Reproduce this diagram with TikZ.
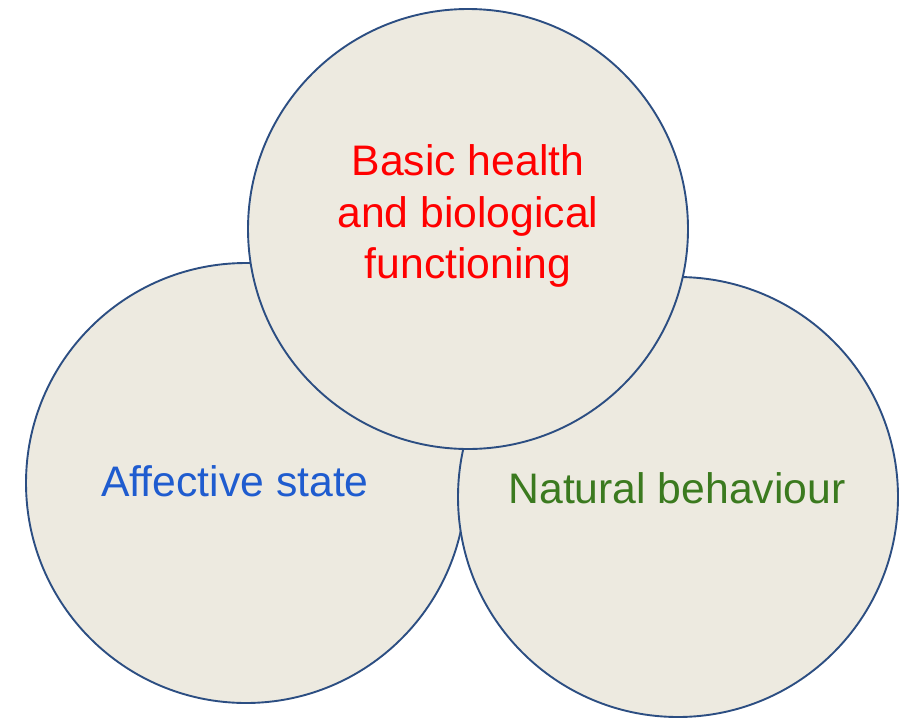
\documentclass[tikz,border=0pt]{standalone}
\usepackage{fontspec}
\setmainfont{Liberation Sans}
\definecolor{discfill}{HTML}{EDEAE0}
\definecolor{discline}{HTML}{2C4E82}
\definecolor{healthred}{HTML}{FF0000}
\definecolor{affectblue}{HTML}{1F5CCF}
\definecolor{naturegreen}{HTML}{3B7A1F}
\begin{document}
\begin{tikzpicture}[x=1pt,y=-1pt,
  disc/.style={circle, minimum size=440pt, inner sep=0pt, fill=discfill, draw=discline, line width=1.9pt},
  lbl/.style={font=\fontsize{42.7}{51.5}\selectfont, align=center, inner sep=0pt}]
\useasboundingbox (0,0) rectangle (905,718);
% the three overlapping discs, bottom ones first
\node[disc] (affect) at (246,483) {};
\node[disc] (nature) at (678,497) {};
\node[disc] (health) at (468,229) {};
% labels
\node[lbl, text=healthred] (thealth) at (468,216) {Basic health\\and biological\\functioning};
\node[lbl, text=affectblue] (taffect) at (235,481) {Affective state};
\node[lbl, text=naturegreen] (tnature) at (677,488) {Natural behaviour};
\end{tikzpicture}
\end{document}
